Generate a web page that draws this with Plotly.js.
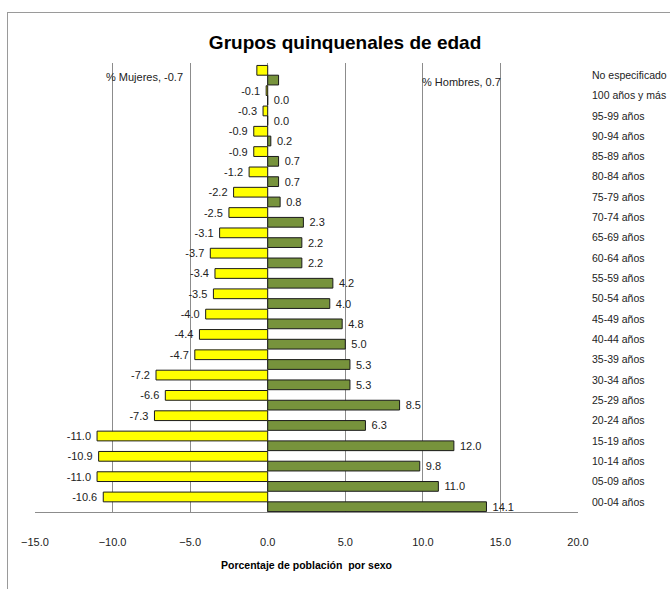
<!DOCTYPE html>
<html>
<head>
<meta charset="utf-8">
<script src="https://cdn.plot.ly/plotly-3.0.1.min.js"></script>
<style>
  html, body { margin: 0; padding: 0; background: #fff; }
  #frame { position: absolute; left: 7px; top: 12px; width: 700px; height: 620px; border: 1px solid #9a9a9a; box-sizing: border-box; }
  #chart { position: absolute; left: 0; top: 0; width: 670px; height: 589px; }
</style>
</head>
<body>
<div id="frame"></div>
<div id="chart"></div>
<script>
// Data (bottom to top)
const categories = ["00-04 años","05-09 años","10-14 años","15-19 años","20-24 años","25-29 años","30-34 años","35-39 años","40-44 años","45-49 años","50-54 años","55-59 años","60-64 años","65-69 años","70-74 años","75-79 años","80-84 años","85-89 años","90-94 años","95-99 años","100 años y más","No especificado"];
const mujeres = [-10.6,-11.0,-10.9,-11.0,-7.3,-6.6,-7.2,-4.7,-4.4,-4.0,-3.5,-3.4,-3.7,-3.1,-2.5,-2.2,-1.2,-0.9,-0.9,-0.3,-0.1,-0.7];
const hombres = [14.1,11.0,9.8,12.0,6.3,8.5,5.3,5.3,5.0,4.8,4.0,4.2,2.2,2.2,2.3,0.8,0.7,0.7,0.2,0.0,0.0,0.7];
const xTicks = [-15,-10,-5,0,5,10,15,20];

const FONT = "'Liberation Sans', Arial, sans-serif";
const last = categories.length - 1;

const menText = hombres.map((v,i) => i === last ? "" : "\u00a0" + v.toFixed(1));
const womenText = mujeres.map((v,i) => i === last ? "" : v.toFixed(1) + "\u00a0");

const traces = [
  {
    type: "bar", orientation: "h", name: "% Hombres",
    x: hombres, y: categories,
    marker: { color: "#77933C", line: { color: "#1a1a1a", width: 1 } },
    text: menText, textposition: "outside", cliponaxis: false, constraintext: "none",
    textfont: { family: FONT, size: 11, color: "#222" },
    hoverinfo: "x+y"
  },
  {
    type: "bar", orientation: "h", name: "% Mujeres",
    x: mujeres, y: categories,
    marker: { color: "#FFFF00", line: { color: "#1a1a1a", width: 1 } },
    text: womenText, textposition: "outside", cliponaxis: false, constraintext: "none",
    textfont: { family: FONT, size: 11, color: "#222" },
    hoverinfo: "x+y"
  }
];

const layout = {
  width: 670, height: 589,
  margin: { l: 35, r: 92, t: 63, b: 77 },
  paper_bgcolor: "rgba(0,0,0,0)",
  plot_bgcolor: "rgba(0,0,0,0)",
  showlegend: false,
  barmode: "group",
  bargap: 0.04,
  bargroupgap: 0,
  font: { family: FONT, size: 11, color: "#222" },
  title: {
    text: "<b>Grupos quinquenales de edad</b>",
    font: { family: FONT, size: 19, color: "#000" },
    xref: "container", x: 0.515, xanchor: "center",
    yref: "container", y: 1 - 42/589, yanchor: "middle"
  },
  xaxis: {
    range: [-15, 20],
    tickvals: xTicks,
    tickformat: ".1f",
    showgrid: true, gridcolor: "#8c8c8c", gridwidth: 1,
    zeroline: false,
    showline: true, linecolor: "#8c8c8c", linewidth: 1, mirror: false,
    ticks: "", ticklabelstandoff: 20,
    tickfont: { family: FONT, size: 11, color: "#222" },
    title: { text: "<b>Porcentaje de población  por sexo</b>", font: { family: FONT, size: 10.5, color: "#000" }, standoff: 14 },
    fixedrange: true
  },
  yaxis: {
    type: "category",
    categoryorder: "array", categoryarray: categories,
    side: "right",
    range: [-0.5, last + 0.6],
    showgrid: false, zeroline: false,
    showline: false,
    ticks: "", ticklabelstandoff: 13,
    tickfont: { family: FONT, size: 10.5, color: "#222" },
    fixedrange: true
  },
  annotations: [
    { x: mujeres[last], y: categories[last], xref: "x", yref: "y", text: "% Mujeres, " + mujeres[last].toFixed(1),
      showarrow: false, xanchor: "right", xshift: -72, yshift: -2,
      font: { family: FONT, size: 11, color: "#222" } },
    { x: hombres[last], y: categories[last], xref: "x", yref: "y", text: "% Hombres, " + hombres[last].toFixed(1),
      showarrow: false, xanchor: "left", xshift: 141, yshift: -7,
      font: { family: FONT, size: 11, color: "#222" } }
  ]
};

Plotly.newPlot("chart", traces, layout, { displayModeBar: false, staticPlot: true });
</script>
</body>
</html>
